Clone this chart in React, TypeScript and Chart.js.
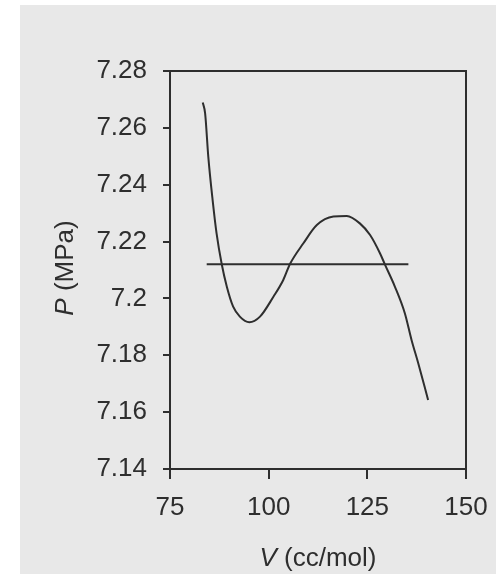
import React, { useEffect, useRef } from "react";
import { Chart, registerables } from "chart.js";

Chart.register(...registerables);

// Van der Waals-type isotherm
const volume = [83.3, 83.9, 84.7, 85.8, 86.8, 88.1, 89.4, 91.0, 92.7, 95.1, 97.8, 101.2, 103.7, 105.4, 108.8, 112.2, 116.4, 119.8, 123.1, 125.7, 128.2, 129.5, 132.0, 134.5, 136.2, 137.9, 140.4];
const pressure = [7.2689, 7.2651, 7.2499, 7.2346, 7.2229, 7.2121, 7.2041, 7.1971, 7.1936, 7.1916, 7.1936, 7.2006, 7.2065, 7.2121, 7.2194, 7.2258, 7.2288, 7.229, 7.2264, 7.2223, 7.2159, 7.2118, 7.2041, 7.1948, 7.1854, 7.1772, 7.1643];

// Horizontal (equal-area) line
const tieLineV = [84.3, 135.4];
const tieLineP = [7.212, 7.212];

const xTicks = [75, 100, 125, 150];
const yTicks = [7.14, 7.16, 7.18, 7.2, 7.22, 7.24, 7.26, 7.28];

const xTitleItalic = "V";
const xTitleRest = " (cc/mol)";
const yTitleItalic = "P";
const yTitleRest = " (MPa)";

const FONT = "'Liberation Sans', Arial, Helvetica, sans-serif";
const INK = "#2e2e2e";

const framePlugin = {
  id: "frameAndTitles",
  afterDraw(chart: any) {
    const { ctx, chartArea: a } = chart;
    ctx.save();
    ctx.strokeStyle = INK;
    ctx.lineWidth = 2;
    ctx.strokeRect(a.left, a.top, a.right - a.left, a.bottom - a.top);

    const drawTitle = (italic: string, rest: string) => {
      ctx.font = `italic 26px ${FONT}`;
      const w1 = ctx.measureText(italic).width;
      ctx.font = `26px ${FONT}`;
      const w2 = ctx.measureText(rest).width;
      const start = -(w1 + w2) / 2;
      ctx.textAlign = "left";
      ctx.textBaseline = "alphabetic";
      ctx.fillStyle = INK;
      ctx.font = `italic 26px ${FONT}`;
      ctx.fillText(italic, start, 0);
      ctx.font = `26px ${FONT}`;
      ctx.fillText(rest, start + w1, 0);
    };

    // x title
    ctx.save();
    ctx.translate((a.left + a.right) / 2, 566);
    drawTitle(xTitleItalic, xTitleRest);
    ctx.restore();

    // y title
    ctx.save();
    ctx.translate(73, 268);
    ctx.rotate(-Math.PI / 2);
    drawTitle(yTitleItalic, yTitleRest);
    ctx.restore();

    ctx.restore();
  },
};

export default function App() {
  const canvasRef = useRef<HTMLCanvasElement | null>(null);

  useEffect(() => {
    if (!canvasRef.current) return;
    const curve = volume.map((v, i) => ({ x: v, y: pressure[i] }));
    const tie = tieLineV.map((v, i) => ({ x: v, y: tieLineP[i] }));

    const chart = new Chart(canvasRef.current, {
      type: "scatter",
      data: {
        datasets: [
          {
            data: curve,
            showLine: true,
            borderColor: INK,
            borderWidth: 2,
            pointRadius: 0,
            cubicInterpolationMode: "monotone",
            fill: false,
          },
          {
            data: tie,
            showLine: true,
            borderColor: INK,
            borderWidth: 2,
            pointRadius: 0,
            fill: false,
          },
        ],
      },
      options: {
        animation: false,
        responsive: false,
        devicePixelRatio: 1,
        layout: { padding: { top: 71, right: 30, left: 0, bottom: 0 } },
        plugins: {
          legend: { display: false },
          tooltip: { enabled: false },
          title: { display: false },
        },
        scales: {
          x: {
            type: "linear",
            min: xTicks[0],
            max: xTicks[xTicks.length - 1],
            afterFit: (s: any) => {
              s.height = 105;
              s.paddingLeft = 0;
              s.paddingRight = 0;
            },
            afterBuildTicks: (s: any) => {
              s.ticks = xTicks.map((v) => ({ value: v }));
            },
            ticks: {
              color: INK,
              padding: 13,
              font: { family: FONT, size: 26 },
              callback: (v: any) => String(v),
            },
            grid: {
              display: true,
              drawOnChartArea: false,
              drawTicks: true,
              tickLength: 10,
              color: INK,
              lineWidth: 2,
            },
            border: { display: true, color: INK, width: 2 },
          },
          y: {
            type: "linear",
            min: yTicks[0],
            max: yTicks[yTicks.length - 1],
            afterFit: (s: any) => {
              s.width = 170;
              s.paddingTop = 0;
              s.paddingBottom = 0;
            },
            afterBuildTicks: (s: any) => {
              s.ticks = yTicks.map((v) => ({ value: v }));
            },
            ticks: {
              color: INK,
              padding: 16,
              font: { family: FONT, size: 26 },
              callback: (v: any) => String(Number(Number(v).toFixed(2))),
            },
            grid: {
              display: true,
              drawOnChartArea: false,
              drawTicks: true,
              tickLength: 7,
              color: INK,
              lineWidth: 2,
            },
            border: { display: true, color: INK, width: 2 },
          },
        },
      },
      plugins: [framePlugin],
    });
    return () => chart.destroy();
  }, []);

  return (
    <div
      style={{
        position: "absolute",
        left: 0,
        top: 0,
        width: 496,
        height: 574,
        background: "#ffffff",
        overflow: "hidden",
      }}
    >
      <div
        style={{
          position: "absolute",
          left: 20,
          top: 5,
          width: 476,
          height: 569,
          background: "#e8e8e8",
        }}
      />
      <canvas
        ref={canvasRef}
        width={496}
        height={574}
        style={{ position: "absolute", left: 0, top: 0, width: 496, height: 574 }}
      />
    </div>
  );
}
